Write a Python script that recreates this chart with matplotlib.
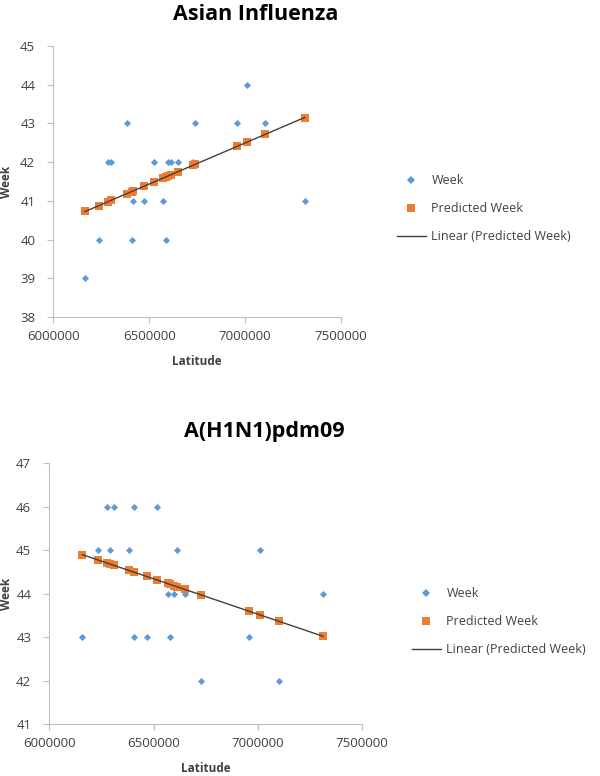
import numpy as np
import matplotlib.pyplot as plt
from matplotlib.lines import Line2D

# Asian Influenza
asian_lat = [6165000, 6238000, 6283000, 6300000, 6382000, 6408000, 6417000, 6474000,
             6526000, 6573000, 6585000, 6596000, 6613000, 6651000, 6729000, 6738000,
             6958000, 7010000, 7102000, 7311000]
asian_week = [39, 40, 42, 42, 43, 40, 41, 41, 42, 41, 40, 42, 42, 42, 42, 43, 43, 44, 43, 41]
asian_pred = [40.73, 40.88, 40.97, 41.02, 41.18, 41.24, 41.26, 41.38, 41.49, 41.59,
              41.61, 41.63, 41.67, 41.75, 41.92, 41.94, 42.41, 42.52, 42.72, 43.15]

# A(H1N1)pdm09
h1_lat = [6159000, 6236000, 6279000, 6292000, 6308000, 6380000, 6404000, 6407000,
          6468000, 6519000, 6567000, 6580000, 6596000, 6614000, 6649000, 6729000,
          6729000, 6960000, 7013000, 7101000, 7314000]
h1_week = [43, 45, 46, 45, 46, 45, 43, 46, 43, 46, 44, 43, 44, 45, 44, 44, 42, 43, 45, 42, 44]
h1_pred = [44.90, 44.77, 44.70, 44.68, 44.66, 44.54, 44.50, 44.50, 44.40, 44.31,
           44.24, 44.22, 44.19, 44.16, 44.10, 43.97, 43.97, 43.60, 43.51, 43.37, 43.02]

BLUE = '#5B9BD5'
ORANGE = '#ED7D31'
GREY = '#404040'
plt.rcParams['font.family'] = ['Open Sans', 'DejaVu Sans']

fig = plt.figure(figsize=(6, 7.76), dpi=100)
W, H = 600, 776


def panel(rect, lat, week, pred, ylim, title, title_xy, leg_xy, xpad, ypad):
    l, t, r, b = rect
    ax = fig.add_axes([l / W, 1 - b / H, (r - l) / W, (b - t) / H])
    ax.scatter(lat, week, marker='D', s=13, color=BLUE, linewidths=0, zorder=3)
    ax.scatter(lat, pred, marker='s', s=34, color=ORANGE, linewidths=0, zorder=3)
    k, c = np.polyfit(lat, pred, 1)
    xs = np.array([min(lat), max(lat)])
    ax.plot(xs, k * xs + c, color='#404040', lw=1.0, zorder=4)
    ax.set_xlim(6000000, 7500000)
    ax.set_xticks([6000000, 6500000, 7000000, 7500000])
    ax.set_xticklabels(['6000000', '6500000', '7000000', '7500000'])
    ax.set_ylim(*ylim)
    ax.set_yticks(range(ylim[0], ylim[1] + 1))
    for s in ['top', 'right']:
        ax.spines[s].set_visible(False)
    for s in ['left', 'bottom']:
        ax.spines[s].set_color('#BFBFBF')
    ax.tick_params(colors='#BFBFBF', labelcolor=GREY, labelsize=9.5, length=4, width=0.8)
    ax.tick_params(axis='y', pad=9)
    ax.tick_params(axis='x', pad=5)
    ax.set_xlabel('Latitude', fontsize=8.5, fontweight='bold', color=GREY, labelpad=xpad)
    ax.set_ylabel('Week', fontsize=8.5, fontweight='bold', color=GREY, labelpad=ypad)
    fig.text(title_xy[0] / W, 1 - title_xy[1] / H, title, fontsize=15.5, fontweight='bold',
             ha='center', va='center', color='black')
    handles = [Line2D([], [], marker='D', ls='none', color=BLUE, markersize=4.5, markeredgewidth=0),
               Line2D([], [], marker='s', ls='none', color=ORANGE, markersize=6, markeredgewidth=0),
               Line2D([], [], color='#404040', lw=1.0)]
    fig.legend(handles, ['Week', 'Predicted Week', 'Linear (Predicted Week)'],
               loc='upper left', bbox_to_anchor=(leg_xy[0] / W, 1 - leg_xy[1] / H),
               frameon=False, fontsize=9, labelcolor=GREY, handlelength=2.3,
               handletextpad=0.45, labelspacing=1.2, borderaxespad=0, borderpad=0)


panel((53.3, 46, 341, 317), asian_lat, asian_week, asian_pred, (38, 45),
      'Asian Influenza', (256, 14), (397, 174), 9, 5)
panel((49.3, 463.3, 362, 724.3), h1_lat, h1_week, h1_pred, (41, 47),
      'A(H1N1)pdm09', (264, 432), (412, 587), 9, 2)

fig.savefig('out.png', dpi=100)
